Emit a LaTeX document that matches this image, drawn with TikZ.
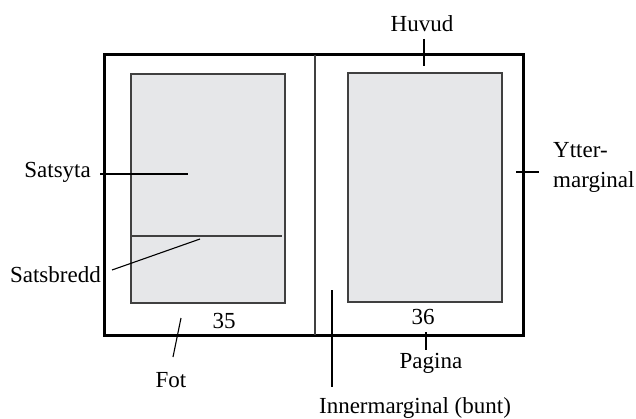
\documentclass[tikz,border=0pt]{standalone}
\usepackage{fontspec}
\setmainfont{Liberation Serif}
\definecolor{areafill}{HTML}{E6E7E9}
\definecolor{areaedge}{HTML}{404040}
\tikzset{
  lbl/.style={inner sep=0pt, font=\fontsize{23}{30}\selectfont},
  leader/.style={draw=black, line width=1.1pt},
  pageframe/.style={draw=black, line width=3pt},
  textarea/.style={draw=areaedge, fill=areafill, line width=1.2pt},
}
\begin{document}
\begin{tikzpicture}[x=1pt,y=-1pt]
\useasboundingbox (0,0) rectangle (636,419);
% spread
\draw[pageframe] (104,55) rectangle (523,335);
\draw[line width=1.4pt, draw=areaedge] (315,55) -- (315,335);
% text areas
\draw[textarea] (131,74) rectangle (285,303);
\draw[textarea] (348,73) rectangle (502,302);
% Satsbredd line
\coordinate (sbL) at (131,236);
\coordinate (sbR) at (282,236);
\draw[line width=1.2pt, draw=areaedge] (sbL) -- (sbR);
% page numbers
\node[lbl, anchor=base] (p35) at (224,328) {35};
\node[lbl, anchor=base] (p36) at (423,324) {36};
% labels
\node[lbl, anchor=base east] (satsyta) at (91,178) {Satsyta};
\node[lbl, anchor=base east] (satsbredd) at (101,282) {Satsbredd};
\node[lbl, anchor=base] (huvud) at (422,32) {Huvud};
\node[lbl, anchor=base west] (ytter) at (553,158) {Ytter-};
\node[lbl, anchor=base west] (marginal) at (553,188) {marginal};
\node[lbl, anchor=base] (pagina) at (431,368) {Pagina};
\node[lbl, anchor=base] (fot) at (171,387) {Fot};
\node[lbl, anchor=base] (inner) at (415,413) {Innermarginal (bunt)};
% leader endpoints
\coordinate (a1) at (100,174); \coordinate (a2) at (188,174);
\coordinate (b1) at (112,270); \coordinate (b2) at (200,239);
\coordinate (c1) at (424,39);  \coordinate (c2) at (424,66);
\coordinate (d1) at (516,172); \coordinate (d2) at (539,172);
\coordinate (e1) at (426,332); \coordinate (e2) at (426,350);
\coordinate (f1) at (181,318); \coordinate (f2) at (173,357);
\coordinate (g1) at (332,290); \coordinate (g2) at (332,387);
\draw[leader] (a1) -- (a2);
\draw[leader] (b1) -- (b2);
\draw[leader] (c1) -- (c2);
\draw[leader] (d1) -- (d2);
\draw[leader] (e1) -- (e2);
\draw[leader] (f1) -- (f2);
\draw[leader] (g1) -- (g2);
\end{tikzpicture}
\end{document}
